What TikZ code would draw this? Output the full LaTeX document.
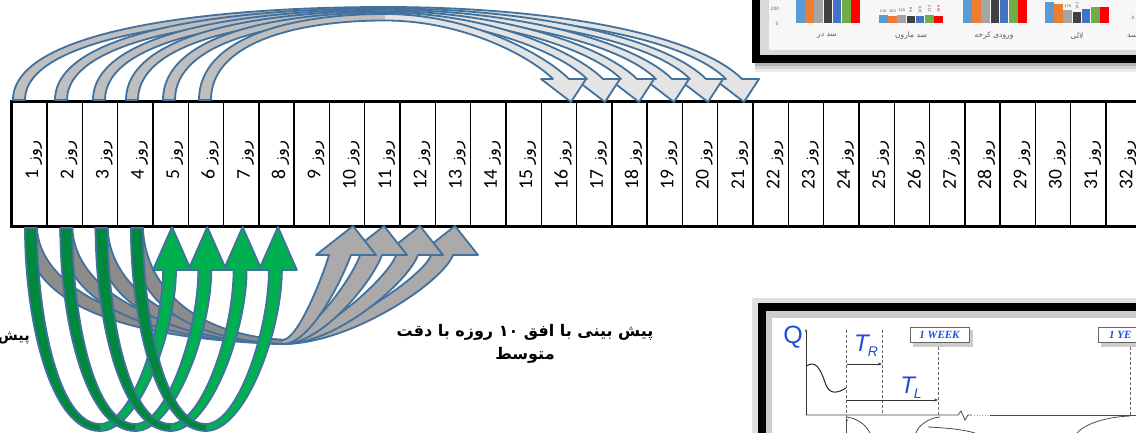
\documentclass[tikz,border=0pt]{standalone}
\usepackage{fontspec}
\setmainfont{DejaVu Sans}
\newfontfamily\arab[Script=Arabic]{DejaVu Sans}
\newfontfamily\carl{Carlito}
\newfontfamily\tms{Liberation Serif}
\newfontfamily\arl{Liberation Sans}
\usetikzlibrary{arrows.meta}
\TeXXeTstate=1
\definecolor{edgeblue}{HTML}{41719C}
\definecolor{topdark}{HTML}{BFBFBF}
\definecolor{toplight}{HTML}{E4E4E4}
\definecolor{graydark}{HTML}{8E8B8B}
\definecolor{graylight}{HTML}{ABA9A9}
\definecolor{gdark}{HTML}{00893E}
\definecolor{glight}{HTML}{00B050}
\definecolor{qblue}{HTML}{1F4FD8}
\definecolor{cA}{HTML}{5B9BD5}
\definecolor{cB}{HTML}{ED7D31}
\definecolor{cC}{HTML}{A5A5A5}
\definecolor{cD}{HTML}{404040}
\definecolor{cE}{HTML}{4472C4}
\definecolor{cF}{HTML}{70AD47}
\definecolor{cG}{HTML}{FF0000}
\tikzset{
  arrowedge/.style={draw=edgeblue, line width=1.8pt, line join=round},
  cell/.style={draw, line width=1.4pt, minimum width=35.3pt, minimum height=125pt, inner sep=0pt, outer sep=0pt},
  celltext/.style={rotate=90, anchor=base east, inner sep=0pt},
  catlabel/.style={font=\arab\fontsize{7.5}{8}\selectfont, text=black!65, inner sep=0pt},
  tinylabel/.style={font=\fontsize{3.5}{4}\selectfont, text=black!70, inner sep=0pt},
  axlabel/.style={font=\fontsize{4.5}{5}\selectfont, text=black!60, inner sep=0pt},
  guide/.style={black!60, densely dashed, line width=0.5pt},
  thinline/.style={black!70, line width=0.8pt},
  boxlabel/.style={draw=black!60, fill=white, line width=0.8pt, inner sep=0pt, text=qblue, font=\tms\bfseries\itshape\fontsize{11}{11}\selectfont},
}
% top arrows: #1 tail left x, #2 head tip x, #3 apex y
\newcommand\TopArrow[3]{%
\pgfmathsetmacro\qAi{#3+6.5}%
\pgfmathsetmacro\qCa{#3+0.27*(100-#3)}%
\pgfmathsetmacro\qCb{#1+0.5*(385-#1)}%
\pgfmathsetmacro\qTr{#1+12}%
\pgfmathsetmacro\qCc{\qAi+0.27*(100-\qAi)}%
\pgfmathsetmacro\qCd{\qTr+0.5*(385-\qTr)}%
\pgfmathsetmacro\qWa{#2-2-385}%
\pgfmathsetmacro\qRa{385+0.47*\qWa}%
\pgfmathsetmacro\qDa{0.12*\qWa+2}%
\pgfmathsetmacro\qWb{#2-18-385}%
\pgfmathsetmacro\qRb{385+0.47*\qWb}%
\pgfmathsetmacro\qDb{0.12*\qWb+2}%
\def\qFull{(#1,100) .. controls (#1,\qCa) and (\qCb,#3) .. (385,#3) .. controls (\qRa,#3) and ({#2-2-\qDa},{79-\qDa}) .. ({#2-2},79) -- ({#2+15},79) -- (#2,102) -- ({#2-30},79) -- ({#2-18},79) .. controls ({#2-18-\qDb},{79-\qDb}) and (\qRb,\qAi) .. (385,\qAi) .. controls (\qCd,\qAi) and (\qTr,\qCc) .. (\qTr,100) -- cycle}%
\fill[toplight] \qFull;
\fill[topdark] (#1,100) .. controls (#1,\qCa) and (\qCb,#3) .. (385,#3) -- (385,\qAi) .. controls (\qCd,\qAi) and (\qTr,\qCc) .. (\qTr,100) -- cycle;
\draw[arrowedge] \qFull;}
% gray bottom arrows: #1 tail left x, #2 head tip x
\newcommand\GrayArrow[2]{%
\pgfmathsetmacro\qGp{#1+0.25*(283-#1)}%
\pgfmathsetmacro\qGq{#1+12+0.3*(271-#1)}%
\pgfmathsetmacro\qGa{283+0.4*(#2-285)}%
\pgfmathsetmacro\qGb{283+0.35*(#2-307)}%
\def\qFull{(#1,228) .. controls (#1,290) and (\qGp,338) .. (283,344) .. controls (\qGa,344) and ({#2-12},282) .. ({#2-2},255) -- ({#2+23},255) -- (#2,226) -- ({#2-37},255) -- ({#2-24},255) .. controls ({#2-30},275) and (\qGb,338) .. (283,340) .. controls (\qGq,333) and ({#1+14},280) .. ({#1+12},228) -- cycle}%
\fill[graylight] \qFull;
\fill[graydark] (#1,228) .. controls (#1,290) and (\qGp,338) .. (283,344) -- (283,340) .. controls (\qGq,333) and ({#1+14},280) .. ({#1+12},228) -- cycle;
\draw[arrowedge] \qFull;}
% green bottom arrow (shifted by scope)
\newcommand\GreenArrow{%
\def\qFull{(25,228) .. controls (25,320) and (50,431) .. (100,431) .. controls (140,431) and (176,330) .. (176,270) -- (191,270) -- (172,227) -- (153,270) -- (163,270) .. controls (163,330) and (132,424) .. (100,424) .. controls (58,424) and (37,315) .. (37,228) -- cycle}%
\fill[glight] \qFull;
\fill[gdark] (25,228) .. controls (25,320) and (50,431) .. (100,431) -- (100,424) .. controls (58,424) and (37,315) .. (37,228) -- cycle;
\draw[arrowedge] \qFull;}
\begin{document}
\begin{tikzpicture}[x=1pt,y=-1pt]
\useasboundingbox (0,0) rectangle (1136,433);
\clip (0,0) rectangle (1136,433);
\fill[white] (0,0) rectangle (1136,433);

% ---------- top-right inset (chart picture) ----------
\fill[black!30] (755,63) rectangle (1140,66);
\fill[black!18] (755,66) rectangle (1140,69);
\fill[black!8] (755,69) rectangle (1140,72);
\fill[black] (752,-5) rectangle (1140,63);
\fill[black!15] (760,-5) rectangle (1140,55);
\fill[black!3] (769,-5) rectangle (1140,50);
\foreach \c [count=\j] in {cA,cB,cC,cD,cE,cF,cG}{
  \fill[\c] ({796+(\j-1)*9.2},23.5) rectangle ++(8.6,-30);
  \fill[\c] ({963+(\j-1)*9.2},23.5) rectangle ++(8.6,-30);
}
\foreach \c/\h [count=\j] in {cA/8.0,cB/7.5,cC/8.7,cD/7.1,cE/7.25,cF/8.1,cG/7.9}{
  \fill[\c] ({879+(\j-1)*9.2},23.5) rectangle ++(8.6,-\h);
}
\foreach \c/\h [count=\j] in {cA/21.8,cB/19.5,cC/13.5,cD/11.8,cE/14.2,cF/16.2,cG/16.8}{
  \fill[\c] ({1045+(\j-1)*9.2},23.5) rectangle ++(8.6,-\h);
}
\node[tinylabel] (v1) at (883.3,11) {110};
\node[tinylabel] (v2) at (892.5,11.5) {103};
\node[tinylabel] (v3) at (901.7,10) {120};
\node[tinylabel, rotate=90] (v4) at (910.9,10) {98};
\node[tinylabel, rotate=90] (v5) at (920.1,10) {100};
\node[tinylabel, rotate=90] (v6) at (929.3,9) {112};
\node[tinylabel, rotate=90, text=red] (v7) at (938.5,9) {109};
\node[tinylabel] (v8) at (1067.8,6) {179};
\node[tinylabel, rotate=90] (v9) at (1077,6) {142};
\node[axlabel] (a200) at (775,9) {200};
\node[axlabel] (a0) at (777,24) {0};
\node[axlabel] (b0) at (1133,18) {0};
\node[catlabel] (k1) at (827,36) {\beginR سد در\endR};
\node[catlabel] (k2) at (911,36) {\beginR سد مارون\endR};
\node[catlabel] (k3) at (994,36) {\beginR ورودی کرخه\endR};
\node[catlabel] (k4) at (1077,36) {\beginR لالی\endR};
\node[catlabel, anchor=west] (k5) at (1127,36) {\beginR سد\endR};

% ---------- bottom-right inset (hydrograph picture) ----------
\fill[black!12] (752,298) rectangle (1140,440);
\fill[black] (758,303) rectangle (1140,440);
\fill[black!20] (766,311) rectangle (1140,440);
\fill[white] (772,318) rectangle (1140,440);
\node[text=qblue, font=\arl\fontsize{25}{25}\selectfont, inner sep=0pt] (q) at (793,337) {Q};
\draw[black!80, line width=0.6pt, -{Stealth[length=3pt]}] (806,415) -- (806,329);
\draw[thinline] (806,415) -- (958,415) -- (961,411) -- (965,420) -- (968,415) -- (971,415);
\draw[black!40, dotted, line width=0.8pt] (971,415) -- (990,415);
\draw[thinline] (990,415) -- (1136,415);
\draw[guide] (846.7,330) -- (846.7,433);
\draw[guide] (882,330) -- (882,415);
\draw[guide] (938,342) -- (938,415);
\draw[guide] (1130,342) -- (1130,415);
\node[text=qblue, inner sep=0pt] (tr) at (866,346) {\arl\itshape\fontsize{24}{24}\selectfont T\kern-1pt\raisebox{-5pt}{\fontsize{14}{14}\selectfont R}};
\node[text=qblue, inner sep=0pt] (tl) at (911,388) {\arl\itshape\fontsize{24}{24}\selectfont T\kern-1pt\raisebox{-5pt}{\fontsize{14}{14}\selectfont L}};
\draw[black!80, line width=0.7pt, -{Stealth[length=4pt]}] (846.7,364) -- (882,364);
\draw[black!80, line width=0.7pt, -{Stealth[length=4pt]}] (846.7,400) -- (938,400);
\draw[black!85, line width=1pt] (806,366) .. controls (816,360) and (820,368) .. (826,385) .. controls (830,395) and (838,393) .. (846,388);
\fill[black!20] (913,330) rectangle (973,347);
\node[boxlabel, minimum width=59pt, minimum height=15pt] (wk) at (939.5,334.5) {1 WEEK};
\fill[black!20] (1101,330) rectangle (1140,347);
\draw[draw=black!60, fill=white, line width=0.8pt] (1098,327) rectangle (1145,342);
\node[inner sep=0pt, anchor=west, text=qblue, font=\tms\bfseries\itshape\fontsize{11}{11}\selectfont] (yr) at (1109,334.5) {1 YE};
\draw[thinline, -{Stealth[length=3pt]}] (846.7,433) -- (846.7,418);
\draw[thinline] (847,417) .. controls (860,419) and (867,427) .. (870,433);
\draw[thinline] (940,417) .. controls (928,418) and (918,426) .. (916,433);
\draw[thinline] (928,427) .. controls (950,428) and (965,430) .. (975,433);
\draw[thinline] (1130,416) .. controls (1105,417) and (1085,424) .. (1077,433);

% ---------- day table ----------
\foreach \i in {1,...,32}{
  \node[cell] (c\i) at ({11.7+35.3*(\i-0.5)},164.2) {};
  \node[celltext] (t\i) at ({11.7+35.3*(\i-1)+26.3},140) {{\carl\fontsize{19.5}{20}\selectfont\i}\hspace{6pt}{\arab\fontsize{16.5}{20}\selectfont\beginR روز\endR}};
}
\draw[line width=2.8pt] (c1.north west) -- (c32.north east);
\draw[line width=2.8pt] (c1.south west) -- (c32.south east);
\draw[line width=2.6pt] ([yshift=1.4pt]c1.north west) -- ([yshift=-1.4pt]c1.south west);

% ---------- arrows over the table ----------
\TopArrow{13}{744}{7}
\TopArrow{55}{708}{8.4}
\TopArrow{93}{674}{9.8}
\TopArrow{126}{639}{11.2}
\TopArrow{163}{605}{12.6}
\TopArrow{199}{571}{14}

% ---------- arrows below the table ----------
\GrayArrow{25}{455}
\GrayArrow{60.3}{420}
\GrayArrow{95.6}{384}
\GrayArrow{130.9}{353}
\foreach \dx in {0,35.3,70.6,105.9}{
  \begin{scope}[xshift=\dx pt]
    \GreenArrow
  \end{scope}
}

% ---------- labels ----------
\node[font=\arab\bfseries\fontsize{16}{23}\selectfont, align=center, inner sep=0pt] (lbl) at (525,344) {\beginR پیش بینی با افق ۱۰ روزه با دقت\endR\\\beginR متوسط\endR};
\node[font=\arab\bfseries\fontsize{14.5}{16}\selectfont, anchor=east, inner sep=0pt] (lp) at (30,338) {\beginR پیش\endR};
\end{tikzpicture}
\end{document}
